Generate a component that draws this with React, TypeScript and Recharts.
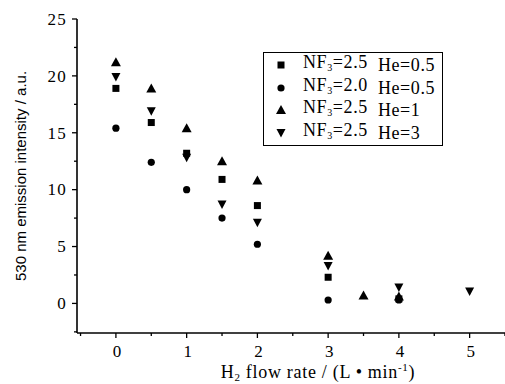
import React from 'react';
import { ScatterChart, Scatter, XAxis, YAxis, Legend } from 'recharts';

const xTicks = [-0.5, 0, 0.5, 1, 1.5, 2, 2.5, 3, 3.5, 4, 4.5, 5, 5.5];
const xMajor = [0, 1, 2, 3, 4, 5];
const yTicks = [-2.5, 0, 2.5, 5, 7.5, 10, 12.5, 15, 17.5, 20, 22.5, 25];
const yMajor = [0, 5, 10, 15, 20, 25];

const sqX = [0, 0.5, 1, 1.5, 2, 3, 4];
const sqY = [18.9, 15.9, 13.2, 10.9, 8.6, 2.3, 0.4];
const ciX = [0, 0.5, 1, 1.5, 2, 3, 4];
const ciY = [15.4, 12.4, 10.0, 7.5, 5.2, 0.3, 0.3];
const trX = [0, 0.5, 1, 1.5, 2, 3, 3.5, 4];
const trY = [21.2, 18.9, 15.4, 12.5, 10.8, 4.2, 0.7, 0.6];
const dnX = [0, 0.5, 1, 1.5, 2, 3, 4, 5];
const dnY = [19.9, 16.9, 12.8, 8.7, 7.1, 3.3, 1.4, 1.05];

const legendNF = ['2.5', '2.0', '2.5', '2.5'];
const legendHe = ['0.5', '0.5', '1', '3'];
const kinds = ['square', 'circle', 'triangle', 'down'];

const toData = (xs: number[], ys: number[]) => xs.map((x, i) => ({ x, y: ys[i] }));

const markerPath = (kind: string, cx: number, cy: number) => {
  switch (kind) {
    case 'square':
      return <rect x={cx - 3.5} y={cy - 3.5} width={7} height={7} fill="#000" />;
    case 'circle':
      return <circle cx={cx} cy={cy} r={3.6} fill="#000" />;
    case 'triangle':
      return <path d={`M${cx - 5},${cy + 4} L${cx + 5},${cy + 4} L${cx},${cy - 5} Z`} fill="#000" />;
    default:
      return <path d={`M${cx - 4.5},${cy - 4} L${cx + 4.5},${cy - 4} L${cx},${cy + 4.5} Z`} fill="#000" />;
  }
};

const makeShape = (kind: string) => (props: any) => {
  const { cx, cy } = props;
  if (cx == null || cy == null) return <g />;
  return <g>{markerPath(kind, cx, cy)}</g>;
};

const SERIF = '"Liberation Serif", "Times New Roman", serif';
const SANS = '"Liberation Sans", Arial, sans-serif';

const YTick = (props: any) => {
  const { x, y, payload } = props;
  const v = payload.value;
  const major = yMajor.includes(v);
  return (
    <g>
      <line x1={x} x2={x - (major ? 5 : 3)} y1={y} y2={y} stroke="#000" strokeWidth={1.3} />
      {major && (
        <text x={x - 10} y={y} dy="0.34em" textAnchor="end" fontFamily={SERIF} fontSize={17} letterSpacing={1.2} fill="#000">
          {v}
        </text>
      )}
    </g>
  );
};

const XTick = (props: any) => {
  const { x, y, payload } = props;
  const v = payload.value;
  const major = xMajor.includes(v);
  return (
    <g>
      <line x1={x} x2={x} y1={y} y2={y + (major ? 5 : 3)} stroke="#000" strokeWidth={1.3} />
      {major && (
        <text x={x + 1} y={y + 24} textAnchor="middle" fontFamily={SERIF} fontSize={17} fill="#000">
          {v}
        </text>
      )}
    </g>
  );
};

const XLabel = () => (
  <text x={318} y={378} textAnchor="middle" fontFamily={SERIF} fontSize={18} letterSpacing={0.7} fill="#000">
    <tspan>H</tspan>
    <tspan fontSize={11} dy={3}>2</tspan>
    <tspan dy={-3}> flow rate / (L • min</tspan>
    <tspan fontSize={11} dy={-7}>-1</tspan>
    <tspan dy={7}>)</tspan>
  </text>
);

const YLabel = () => (
  <text
    x={0}
    y={0}
    transform="translate(26,176) rotate(-90)"
    textAnchor="middle"
    fontFamily={SANS}
    fontSize={15}
    fill="#000"
  >
    530 nm emission intensity / a.u.
  </text>
);

const LegendBox = () => (
  <div
    style={{
      border: '1.5px solid #000',
      background: '#fff',
      fontFamily: SERIF,
      fontSize: 18,
      letterSpacing: 0.6,
      lineHeight: '22.5px',
      padding: '1px 0 1px 0',
      width: 178,
      color: '#000',
      whiteSpace: 'nowrap',
    }}
  >
    {kinds.map((k, i) => (
      <div key={k} style={{ display: 'flex', alignItems: 'center', height: 22.5 }}>
        <svg width={28} height={16} style={{ marginLeft: 3 }}>
          {markerPath(k, 14, 8)}
        </svg>
        <span style={{ marginLeft: 8 }}>
          NF<sub style={{ fontSize: 10, verticalAlign: '-3px' }}>3</sub>={legendNF[i]}
        </span>
        <span style={{ marginLeft: 10 }}>He={legendHe[i]}</span>
      </div>
    ))}
  </div>
);

export default function App() {
  return (
    <div style={{ position: 'absolute', left: 0, top: 0, background: '#fff' }}>
      <ScatterChart width={505} height={384} margin={{ top: 19, right: 0, bottom: 0, left: 0 }}>
        <XAxis
          type="number"
          dataKey="x"
          domain={[-0.55, 5.5]}
          ticks={xTicks}
          interval={0}
          allowDataOverflow
          height={51}
          tickSize={0}
          tickMargin={0}
          tick={<XTick />}
          axisLine={{ stroke: '#000', strokeWidth: 1.6 }}
          tickLine={false}
          label={<XLabel />}
        />
        <YAxis
          type="number"
          dataKey="y"
          domain={[-2.6, 25]}
          ticks={yTicks}
          interval={0}
          allowDataOverflow
          width={77}
          tickSize={0}
          tickMargin={0}
          tick={<YTick />}
          axisLine={{ stroke: '#000', strokeWidth: 1.6 }}
          tickLine={false}
          label={<YLabel />}
        />
        <Legend
          layout="vertical"
          align="center"
          verticalAlign="middle"
          content={<LegendBox />}
          wrapperStyle={{ left: 263, top: 52, width: 181 }}
        />
        <Scatter name="sq" data={toData(sqX, sqY)} shape={makeShape('square')} isAnimationActive={false} />
        <Scatter name="ci" data={toData(ciX, ciY)} shape={makeShape('circle')} isAnimationActive={false} />
        <Scatter name="tr" data={toData(trX, trY)} shape={makeShape('triangle')} isAnimationActive={false} />
        <Scatter name="dn" data={toData(dnX, dnY)} shape={makeShape('down')} isAnimationActive={false} />
      </ScatterChart>
    </div>
  );
}
